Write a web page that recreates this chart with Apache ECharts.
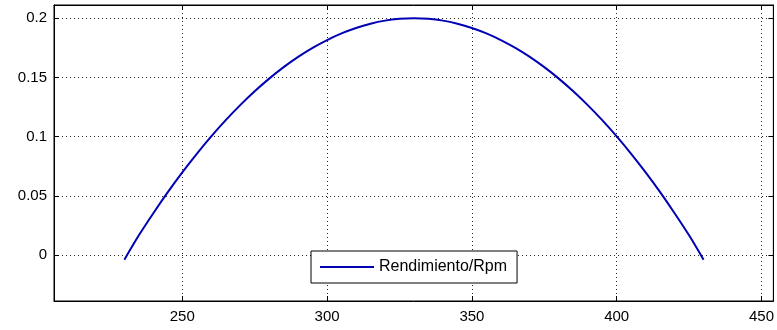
<!DOCTYPE html>
<html>
<head>
<meta charset="utf-8">
<script src="https://cdn.jsdelivr.net/npm/echarts@6/dist/echarts.min.js"></script>
<style>
  html, body { margin: 0; padding: 0; background: #fff; }
  #chart { width: 777px; height: 330px; }
</style>
</head>
<body>
<div id="chart"></div>
<script>
// rpm values and efficiency
const rpm = [230, 235, 240, 245, 250, 255, 260, 265, 270, 275, 280, 285, 290, 295, 300, 305, 310, 315, 320, 325, 330,
             335, 340, 345, 350, 355, 360, 365, 370, 375, 380, 385, 390, 395, 400, 405, 410, 415, 420, 425, 430]
const rendimiento = [-0.004, 0.0166, 0.0353, 0.0531, 0.0698, 0.0855, 0.1002, 0.1139, 0.1266, 0.1383, 0.149, 0.1587, 0.1674, 0.175, 0.1816, 0.1872, 0.1918, 0.1954, 0.198, 0.1995, 0.2,
                     0.1995, 0.198, 0.1954, 0.1918, 0.1872, 0.1816, 0.175, 0.1674, 0.1587, 0.149, 0.1383, 0.1266, 0.1139, 0.1002, 0.0855, 0.0698, 0.0531, 0.0353, 0.0166, -0.004]
const xTicks = [250, 300, 350, 400, 450]
const yTicks = [0, 0.05, 0.1, 0.15, 0.2]
const yTickLabels = ['0', '0.05', '0.1', '0.15', '0.2']
const seriesName = 'Rendimiento/Rpm'

const xMin = 205.7, xMax = 454.1
const yMin = -0.0389, yMax = 0.2112
const font = 'Liberation Sans, Arial, sans-serif'

let myChart = echarts.init(document.getElementById('chart'))

const gridLine = { show: true, lineStyle: { color: '#222', type: [1, 3], width: 1 } }
const tickIn = { show: true, inside: true, length: 5, lineStyle: { color: '#000' } }

let option = {
    animation: false,
    grid: {
        left: 54, top: 5, right: 0, bottom: 29,
        show: true, borderColor: '#000', borderWidth: 1, backgroundColor: '#fff'
    },
    legend: {
        left: 311, top: 251,
        data: [{ name: seriesName, icon: 'rect' }],
        itemWidth: 54, itemHeight: 2, itemGap: 5,
        padding: [8, 10, 8, 9],
        borderColor: '#000', borderWidth: 1, backgroundColor: '#fff',
        textStyle: { color: '#000', fontSize: 16, fontFamily: font }
    },
    xAxis: [{
        type: 'value', min: xMin, max: xMax,
        axisLine: { show: true, onZero: false, lineStyle: { color: '#000' } },
        axisTick: Object.assign({ customValues: xTicks }, tickIn),
        axisLabel: { customValues: xTicks, color: '#000', fontSize: 15, fontFamily: font, margin: 8 },
        splitLine: gridLine
    }, {
        type: 'value', min: xMin, max: xMax, position: 'top',
        axisLine: { show: true, onZero: false, lineStyle: { color: '#000' } },
        axisTick: Object.assign({ customValues: xTicks }, tickIn),
        axisLabel: { show: false },
        splitLine: { show: false }
    }],
    yAxis: [{
        type: 'value', min: yMin, max: yMax,
        axisLine: { show: true, onZero: false, lineStyle: { color: '#000' } },
        axisTick: Object.assign({ customValues: yTicks }, tickIn),
        axisLabel: {
            customValues: yTicks, color: '#000', fontSize: 15, fontFamily: font, margin: 7,
            formatter: v => yTickLabels[yTicks.findIndex(t => Math.abs(t - v) < 1e-9)]
        },
        splitLine: gridLine
    }, {
        type: 'value', min: yMin, max: yMax, position: 'right',
        axisLine: { show: true, onZero: false, lineStyle: { color: '#000' } },
        axisTick: Object.assign({ customValues: yTicks }, tickIn),
        axisLabel: { show: false },
        splitLine: { show: false }
    }],
    series: [{
        name: seriesName,
        type: 'line',
        data: rpm.map((r, i) => [r, rendimiento[i]]),
        smooth: 0.3,
        showSymbol: false,
        lineStyle: { color: '#0000b4', width: 2 },
        itemStyle: { color: '#0000b4' }
    }]
}
myChart.setOption(option)
</script>
</body>
</html>
